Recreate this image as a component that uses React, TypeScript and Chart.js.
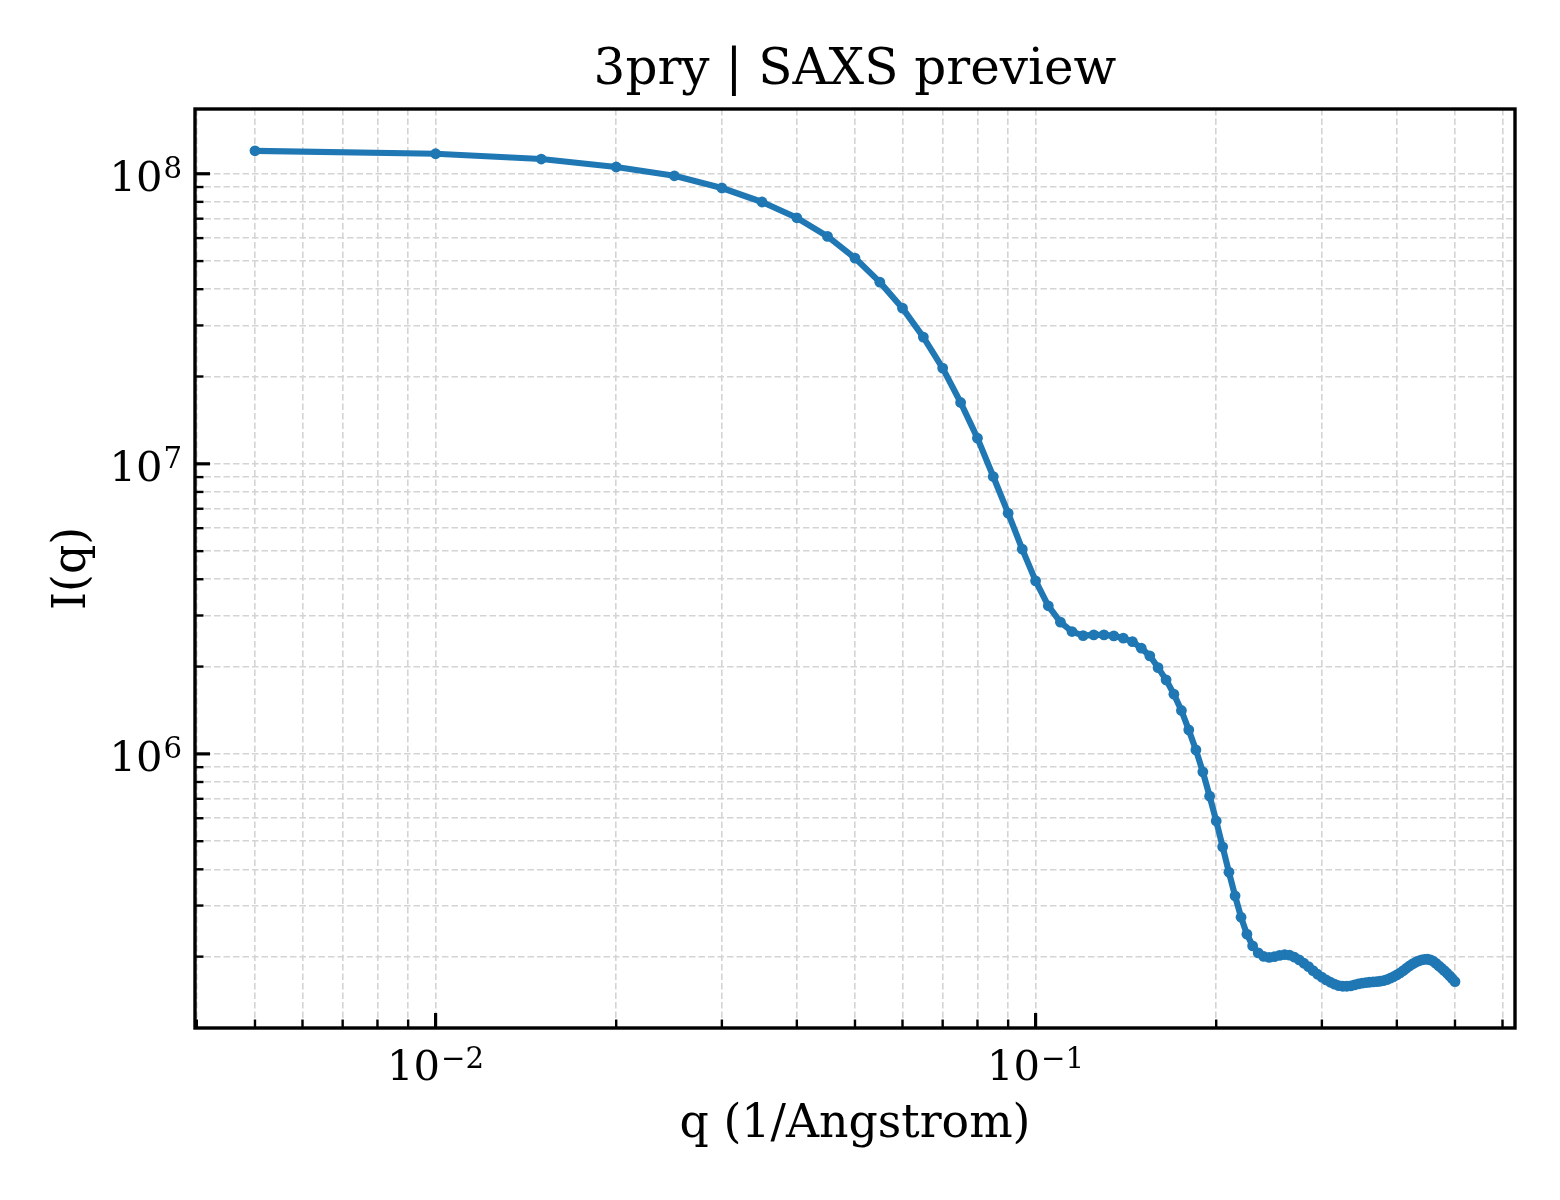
import { useEffect, useRef } from 'react';
import { Chart, registerables } from 'chart.js';

Chart.register(...registerables);

// q grid (1/Angstrom)
const qValues = [
  0.005, 0.01, 0.015, 0.02, 0.025, 0.03, 0.035, 0.04, 0.045, 0.05,
  0.055, 0.06, 0.065, 0.07, 0.075, 0.08, 0.085, 0.09, 0.095, 0.1,
  0.105, 0.11, 0.115, 0.12, 0.125, 0.13, 0.135, 0.14, 0.145, 0.15,
  0.155, 0.16, 0.165, 0.17, 0.175, 0.18, 0.185, 0.19, 0.195, 0.2,
  0.205, 0.21, 0.215, 0.22, 0.225, 0.23, 0.235, 0.24, 0.245, 0.25,
  0.255, 0.26, 0.265, 0.27, 0.275, 0.28, 0.285, 0.29, 0.295, 0.3,
  0.305, 0.31, 0.315, 0.32, 0.325, 0.33, 0.335, 0.34, 0.345, 0.35,
  0.355, 0.36, 0.365, 0.37, 0.375, 0.38, 0.385, 0.39, 0.395, 0.4,
  0.405, 0.41, 0.415, 0.42, 0.425, 0.43, 0.435, 0.44, 0.445, 0.45,
  0.455, 0.46, 0.465, 0.47, 0.475, 0.48, 0.485, 0.49, 0.495, 0.5,
];

// I(q)
const intensity = [
  1.2e8, 1.172e8, 1.124e8, 1.055e8, 9.84e7, 8.93e7, 7.99e7, 7.05e7, 6.08e7, 5.12e7,
  4.23e7, 3.44e7, 2.735e7, 2.138e7, 1.627e7, 1.226e7, 9.04e6, 6.76e6, 5.08e6, 3.95e6,
  3.24e6, 2.845e6, 2.641e6, 2.558e6, 2.572e6, 2.572e6, 2.552e6, 2.506e6, 2.439e6, 2.315e6,
  2.178e6, 1.984e6, 1.8e6, 1.607e6, 1.411e6, 1.21e6, 1.032e6, 8.67e5, 7.15e5, 5.87e5,
  4.78e5, 3.91e5, 3.24e5, 2.735e5, 2.39e5, 2.178e5, 2.06e5, 2.003e5, 1.987e5, 2.0e5,
  2.02e5, 2.032e5, 2.023e5, 1.991e5, 1.949e5, 1.898e5, 1.848e5, 1.789e5, 1.739e5, 1.698e5,
  1.662e5, 1.632e5, 1.608e5, 1.589e5, 1.581e5, 1.581e5, 1.585e5, 1.598e5, 1.611e5, 1.62e5,
  1.627e5, 1.632e5, 1.636e5, 1.64e5, 1.645e5, 1.653e5, 1.666e5, 1.685e5, 1.705e5, 1.73e5,
  1.757e5, 1.789e5, 1.824e5, 1.858e5, 1.888e5, 1.913e5, 1.933e5, 1.949e5, 1.956e5, 1.959e5,
  1.949e5, 1.928e5, 1.895e5, 1.858e5, 1.824e5, 1.789e5, 1.753e5, 1.716e5, 1.678e5, 1.64e5,
];

// ejes log: ticks (mayores + menores) y etiquetas
const xTickValues = [
  0.004, 0.005, 0.006, 0.007, 0.008, 0.009,
  0.01, 0.02, 0.03, 0.04, 0.05, 0.06, 0.07, 0.08, 0.09,
  0.1, 0.2, 0.3, 0.4, 0.5, 0.6,
];
const yTickValues = [
  2e5, 3e5, 4e5, 5e5, 6e5, 7e5, 8e5, 9e5,
  1e6, 2e6, 3e6, 4e6, 5e6, 6e6, 7e6, 8e6, 9e6,
  1e7, 2e7, 3e7, 4e7, 5e7, 6e7, 7e7, 8e7, 9e7,
  1e8,
];
const xMajorTicks = [0.01, 0.1];
const xMajorExponents = ['\u22122', '\u22121'];
const yMajorTicks = [1e6, 1e7, 1e8];
const yMajorExponents = ['6', '7', '8'];

const xLimits = [0.003972, 0.6295];
const yLimits = [1.135e5, 1.672e8];

const chartTitle = '3pry | SAXS preview';
const xAxisLabel = 'q (1/Angstrom)';
const yAxisLabel = 'I(q)';

const FONT = '"DejaVu Serif", serif';
const LINE_BLUE = '#1f77b4';
const TICK_SIZE = 41.7;
const EXP_SIZE = 29.2;

// dibuja "10" + exponente estilo matplotlib
const drawPower = (
  ctx: CanvasRenderingContext2D,
  exp: string,
  x: number,
  baseY: number,
  align: 'center' | 'right'
) => {
  ctx.font = `${TICK_SIZE}px ${FONT}`;
  const baseW = ctx.measureText('10').width;
  ctx.font = `${EXP_SIZE}px ${FONT}`;
  const expW = ctx.measureText(exp).width;
  const total = baseW + 1 + expW;
  const start = align === 'center' ? x - total / 2 : x - total;
  ctx.textAlign = 'left';
  ctx.textBaseline = 'alphabetic';
  ctx.font = `${TICK_SIZE}px ${FONT}`;
  ctx.fillText('10', start, baseY);
  ctx.font = `${EXP_SIZE}px ${FONT}`;
  ctx.fillText(exp, start + baseW + 1, baseY - 12.5);
};

const framePlugin = {
  id: 'saxsFrame',
  afterDraw(chart: Chart) {
    const { ctx, chartArea: a } = chart;
    const xs = chart.scales.x;
    const ys = chart.scales.y;
    ctx.save();
    ctx.strokeStyle = '#000';
    ctx.fillStyle = '#000';
    ctx.lineCap = 'butt';

    // ticks hacia dentro
    xTickValues.forEach(v => {
      const px = xs.getPixelForValue(v);
      if (px < a.left || px > a.right) return;
      const major = xMajorTicks.includes(v);
      ctx.lineWidth = major ? 3.2 : 2.4;
      ctx.beginPath();
      ctx.moveTo(px, a.bottom);
      ctx.lineTo(px, a.bottom - (major ? 15 : 8.5));
      ctx.stroke();
    });
    yTickValues.forEach(v => {
      const py = ys.getPixelForValue(v);
      if (py < a.top || py > a.bottom) return;
      const major = yMajorTicks.includes(v);
      ctx.lineWidth = major ? 3.2 : 2.4;
      ctx.beginPath();
      ctx.moveTo(a.left, py);
      ctx.lineTo(a.left + (major ? 15 : 8.5), py);
      ctx.stroke();
    });

    // marco
    ctx.lineWidth = 3.4;
    ctx.strokeRect(a.left, a.top, a.right - a.left, a.bottom - a.top);

    // etiquetas de ticks
    xMajorTicks.forEach((v, i) => {
      drawPower(ctx, xMajorExponents[i], xs.getPixelForValue(v), a.bottom + 52, 'center');
    });
    yMajorTicks.forEach((v, i) => {
      drawPower(ctx, yMajorExponents[i], a.left - 13, ys.getPixelForValue(v) + 17, 'right');
    });

    // titulos
    const cx = (a.left + a.right) / 2;
    ctx.textAlign = 'center';
    ctx.textBaseline = 'alphabetic';
    ctx.font = `50px ${FONT}`;
    ctx.fillText(chartTitle, cx, 84);
    ctx.font = `45.8px ${FONT}`;
    ctx.fillText(xAxisLabel, cx, a.bottom + 109);
    ctx.translate(85, (a.top + a.bottom) / 2);
    ctx.rotate(-Math.PI / 2);
    ctx.fillText(yAxisLabel, 0, 0);
    ctx.restore();
  },
};

export default function App() {
  const chartRef = useRef<HTMLCanvasElement>(null);
  const chartInstance = useRef<Chart | null>(null);

  useEffect(() => {
    document.body.style.margin = '0';
    if (!chartRef.current) return;

    if (chartInstance.current) {
      chartInstance.current.destroy();
    }

    const gridOpts = {
      color: '#d4d4d4',
      lineWidth: 1.6,
      drawTicks: false,
    };

    chartInstance.current = new Chart(chartRef.current, {
      type: 'line',
      data: {
        datasets: [{
          label: 'I(q)',
          data: qValues.map((q, i) => ({ x: q, y: intensity[i] })),
          borderColor: LINE_BLUE,
          backgroundColor: LINE_BLUE,
          borderWidth: 6.2,
          borderJoinStyle: 'round',
          pointRadius: 5.4,
          pointBorderWidth: 0,
          pointBackgroundColor: LINE_BLUE,
          tension: 0,
          fill: false,
        }],
      },
      options: {
        animation: false,
        responsive: true,
        maintainAspectRatio: false,
        devicePixelRatio: 1,
        layout: { padding: { left: 0, right: 45, top: 109, bottom: 0 } },
        plugins: {
          legend: { display: false },
          tooltip: { enabled: false },
          title: { display: false },
        },
        scales: {
          x: {
            type: 'logarithmic',
            min: xLimits[0],
            max: xLimits[1],
            grid: gridOpts,
            border: { display: false, dash: [6.5, 3] },
            ticks: { display: false, autoSkip: false },
            afterBuildTicks: (scale: any) => {
              scale.ticks = xTickValues.map(value => ({ value }));
            },
            afterFit: (scale: any) => {
              scale.height = 172;
            },
          },
          y: {
            type: 'logarithmic',
            min: yLimits[0],
            max: yLimits[1],
            grid: gridOpts,
            border: { display: false, dash: [6.5, 3] },
            ticks: { display: false, autoSkip: false },
            afterBuildTicks: (scale: any) => {
              scale.ticks = yTickValues.map(value => ({ value }));
            },
            afterFit: (scale: any) => {
              scale.width = 195;
            },
          },
        },
      },
      plugins: [framePlugin],
    });

    return () => {
      if (chartInstance.current) {
        chartInstance.current.destroy();
        chartInstance.current = null;
      }
    };
  }, []);

  return (
    <div style={{ position: 'relative', width: 1560, height: 1200, background: '#fff' }}>
      <canvas ref={chartRef} />
    </div>
  );
}
